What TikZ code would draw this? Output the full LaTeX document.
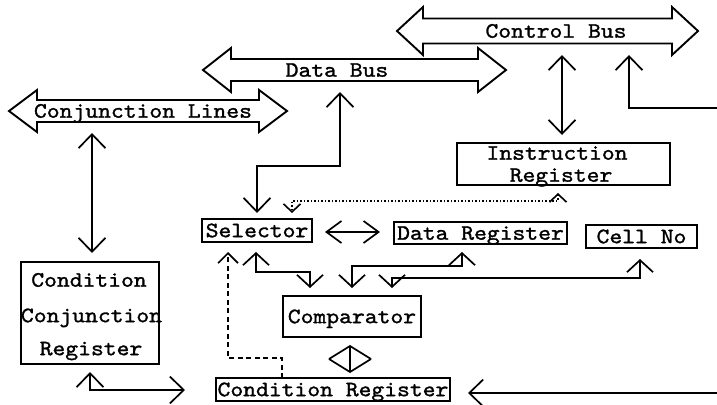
\documentclass[tikz,border=0pt]{standalone}
\usepackage{fontspec}
\usetikzlibrary{arrows.meta,calc}
\newfontfamily\typewriter[FakeStretch=1.11,FakeBold=1.3]{lmmono10-regular.otf}

% hollow bus arrow: name, left tip x, right tip x, centre y, shaft half height,
% head half height, head length, label x, label
\newcommand\drawbus[9]{%
  \draw[busline] (#2,#4) -- (#2+#7,#4-#6) -- (#2+#7,#4-#5) -- (#3-#7,#4-#5)
    -- (#3-#7,#4-#6) -- (#3,#4) -- (#3-#7,#4+#6) -- (#3-#7,#4+#5)
    -- (#2+#7,#4+#5) -- (#2+#7,#4+#6) -- cycle;
  \node[lbl] (#1) at (#8,#4) {#9};}

\begin{document}
\begin{tikzpicture}[x=1pt,y=-1pt,
  every node/.style={font=\typewriter\fontsize{22}{26}\selectfont},
  wire/.style={line width=1.7pt},
  busline/.style={line width=1.9pt, line join=miter},
  box/.style={draw, line width=1.9pt, inner sep=0pt, text height=13.4pt, text depth=0pt},
  lbl/.style={inner sep=0pt, text height=13.4pt, text depth=0pt},
  dotline/.style={line width=1.6pt, dash pattern=on 1.3pt off 2.2pt,
    >={Straight Barb[length=8pt,width=17pt]}},
  dashline/.style={line width=1.6pt, dash pattern=on 5pt off 3.5pt,
    >={Straight Barb[length=10pt,width=20pt]}},
  >={Straight Barb[length=14pt,width=27pt]},
]
\useasboundingbox (0,0) rectangle (717,404);
\fill[white] (0,0) rectangle (717,404);

% buses
\drawbus{ctlbus}{397}{698}{31}{12.5}{24}{26}{556}{Control Bus}
\drawbus{databus}{203}{506}{70}{11}{22}{28}{337}{Data Bus}
\drawbus{conjbus}{9}{287}{111}{11}{21}{28}{143}{Conjunction Lines}

% registers and units
\node[box, minimum width=110pt, minimum height=23pt] (sel) at (257,230.5) {Selector};
\node[box, minimum width=173pt, minimum height=22pt] (dreg) at (480.5,233) {Data Register};
\node[box, minimum width=111pt, minimum height=23pt] (cell) at (641.5,236.5) {Cell No};
\node[box, minimum width=138pt, minimum height=41pt] (cmp) at (352,316.5) {Comparator};
\node[box, minimum width=234pt, minimum height=23pt] (creg) at (333,389.5) {Condition Register};
\node[box, minimum width=213pt, minimum height=42pt] (ireg) at (563.5,164) {};
\node[lbl] (iregA) at (557,153) {Instruction};
\node[lbl] (iregB) at (561,175) {Register};
\node[box, minimum width=138pt, minimum height=102pt] (ccr) at (90,313) {};
\node[lbl] (ccrA) at (89,280) {Condition};
\node[lbl] (ccrB) at (91.5,315.5) {Conjunction};
\node[lbl] (ccrC) at (91,348.5) {Register};

% connector end points beside the blocks
\coordinate (conjS) at (92,133);   \coordinate (ccrN) at (92,253);
\coordinate (dataS) at (340,92);   \coordinate (selN) at (257,213);
\coordinate (ctlS) at (562,55);    \coordinate (iregN) at (562,135);
\coordinate (ctlS2) at (629,55);   \coordinate (eastA) at (717,108);
\coordinate (eastB) at (717,393);  \coordinate (cregE) at (468,393);
\coordinate (ccrS) at (90,372);    \coordinate (ccrOut) at (185,390);
\coordinate (selE) at (325,232);   \coordinate (dregW) at (380,232);
\coordinate (selS) at (256,252);   \coordinate (cmpN1) at (310,288);
\coordinate (dregS) at (462,252);  \coordinate (cmpN2) at (352,288);
\coordinate (cellS) at (640,259);  \coordinate (cmpN3) at (392,288);
\coordinate (cmpS) at (350,345);   \coordinate (cregN) at (350,373);
\coordinate (cregT) at (282,378);  \coordinate (selSW) at (228,252);
\coordinate (iregS) at (558,193);  \coordinate (selNE) at (292,213);

% solid connectors
\draw[wire,<->] (conjS) -- (ccrN);
\draw[wire,<->] (dataS) |- (selN |- 0,166) -- (selN);
\draw[wire,<->] (ctlS) -- (iregN);
\draw[wire,<-] (ctlS2) |- (eastA);
\draw[wire,->] (eastB) -- (cregE);
\draw[wire,<->] (ccrS) |- (ccrOut);
\draw[wire,<->,>={Straight Barb[length=15pt,width=22pt]}] (selE) -- (dregW);
\draw[wire,<->,>={Straight Barb[length=12pt,width=26pt]}] (selS) |- (cmpN1 |- 0,272) -- (cmpN1);
\draw[wire,<->,>={Straight Barb[length=12pt,width=26pt]}] (dregS) |- (cmpN2 |- 0,266) -- (cmpN2);
\draw[wire,<->,>={Straight Barb[length=12pt,width=26pt]}] (cellS) |- (cmpN3 |- 0,278) -- (cmpN3);
\draw[wire,<->,>={Straight Barb[length=13pt,width=42pt]}] (cmpS) -- (cregN);

% control signals
\draw[dashline,->] (cregT) |- (selSW |- 0,358) -- (selSW);
\draw[dotline,<->] (iregS) |- (selNE |- 0,201) -- (selNE);
\end{tikzpicture}
\end{document}
